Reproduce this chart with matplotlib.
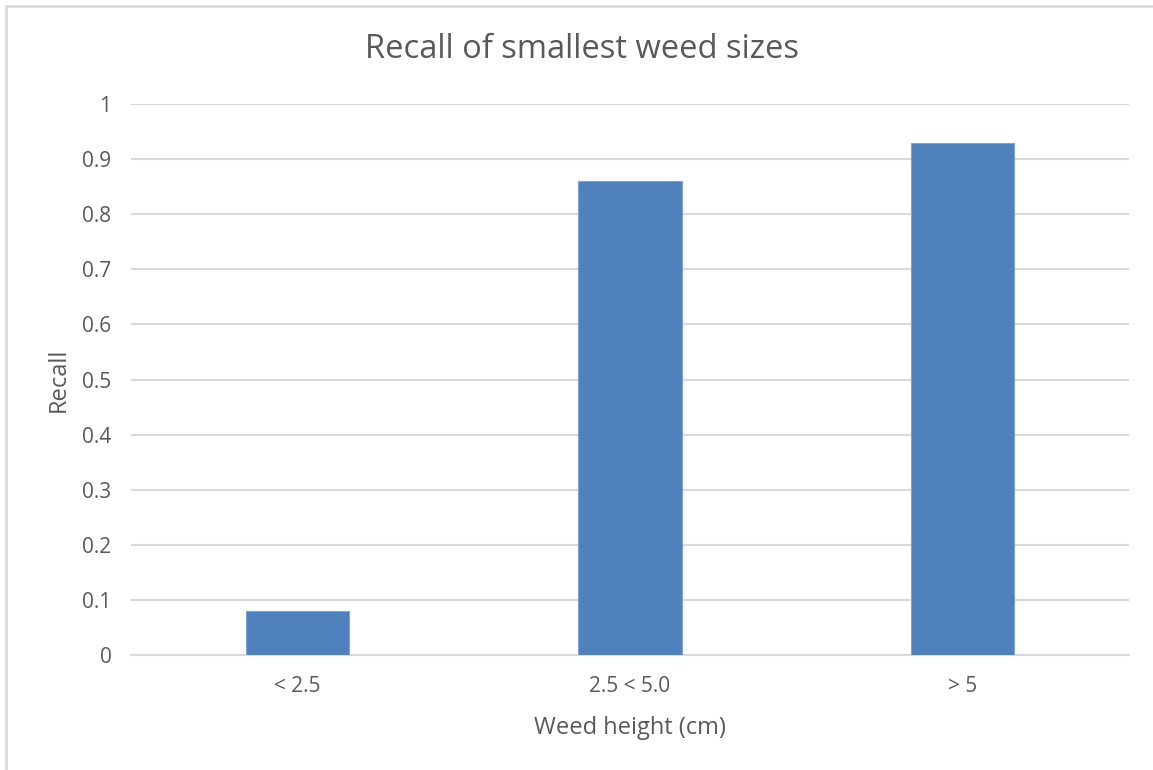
import matplotlib
matplotlib.use("Agg")
import matplotlib.pyplot as plt
from matplotlib.patches import Rectangle

categories = ["< 2.5", "2.5 < 5.0", "> 5"]
recall = [0.08, 0.86, 0.93]
y_ticks = [0, 0.1, 0.2, 0.3, 0.4, 0.5, 0.6, 0.7, 0.8, 0.9, 1]
y_tick_labels = ["0", "0.1", "0.2", "0.3", "0.4", "0.5", "0.6", "0.7", "0.8", "0.9", "1"]

plt.rcParams["font.family"] = ["Open Sans", "DejaVu Sans"]
text_color = "#595959"
grid_color = "#d9d9d9"
bar_color = "#4f81bd"

fig = plt.figure(figsize=(11.53, 7.70), dpi=100)
fig.patch.set_facecolor("white")

# chart-area frame
fig.patches.append(Rectangle((6 / 1153, -0.01), 1.1, (770 - 6) / 770 + 0.01,
                             transform=fig.transFigure, fill=False,
                             edgecolor="#d9d9d9", linewidth=2.0, zorder=0))

ax = fig.add_axes([131 / 1153, 1 - 655 / 770, (1129 - 131) / 1153, (655 - 104) / 770])
x = list(range(len(categories)))
ax.bar(x, recall, width=0.31, color=bar_color, edgecolor="#7fa3d4", linewidth=0.8, zorder=3)

ax.set_xlim(-0.5, len(categories) - 0.5)
ax.set_ylim(0, 1)
ax.set_yticks(y_ticks)
ax.set_yticklabels(y_tick_labels)
ax.set_xticks(x)
ax.set_xticklabels(categories)

ax.grid(axis="y", color=grid_color, linewidth=1.5, zorder=0)
ax.set_axisbelow(True)
for side in ["top", "right", "left"]:
    ax.spines[side].set_visible(False)
ax.spines["bottom"].set_color(grid_color)
ax.spines["bottom"].set_linewidth(1.5)
ax.tick_params(axis="both", length=0, colors=text_color, labelsize=15)
ax.tick_params(axis="y", pad=14)
ax.tick_params(axis="x", pad=15)

# title centred on the whole chart area
fig.text(582 / 1153, 1 - 49 / 770, "Recall of smallest weed sizes", fontsize=23.5,
         color=text_color, ha="center", va="center")
ax.set_xlabel("Weed height (cm)", fontsize=17, color=text_color, labelpad=14)
ax.set_ylabel("Recall", fontsize=17, color=text_color, labelpad=8)

fig.savefig("out.png", dpi=100, facecolor="white")
